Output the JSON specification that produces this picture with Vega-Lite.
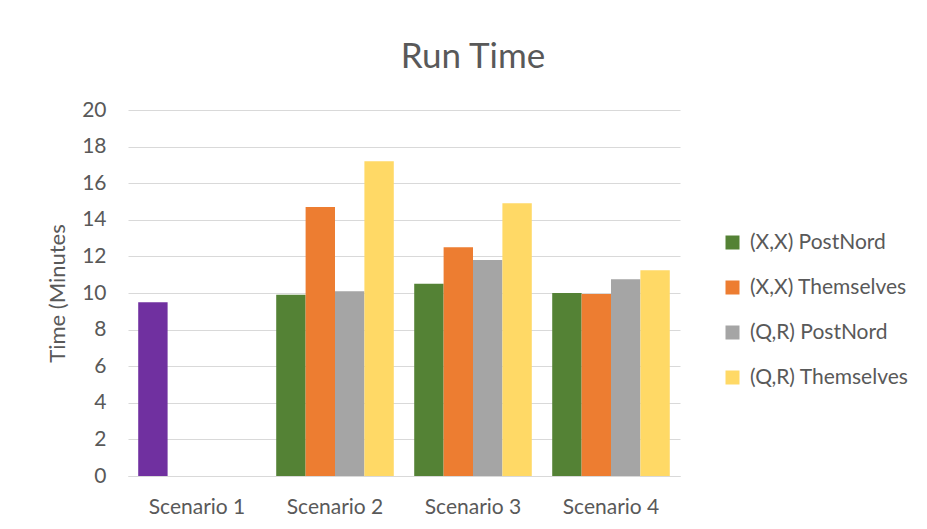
{
  "$schema": "https://vega.github.io/schema/vega-lite/v6.json",
  "width": 552,
  "height": 366,
  "autosize": "none",
  "padding": {"left": 128, "top": 110, "right": 247, "bottom": 53},
  "background": "white",
  "config": {
    "font": "Lato",
    "view": {"stroke": null},
    "axis": {"labelColor": "#595959", "titleColor": "#595959", "labelFont": "Lato", "titleFont": "Lato"},
    "legend": {"labelColor": "#595959", "labelFont": "Lato"}
  },
  "title": {
    "text": "Run Time",
    "fontSize": 35,
    "font": "Lato",
    "fontWeight": "normal",
    "color": "#595959",
    "anchor": "middle",
    "dx": 69,
    "offset": 24
  },
  "data": {
    "values": [
      {"scenario": "Scenario 1", "series": "(X,X) PostNord", "time": 9.5},
      {"scenario": "Scenario 2", "series": "(X,X) PostNord", "time": 9.9},
      {"scenario": "Scenario 2", "series": "(X,X) Themselves", "time": 14.7},
      {"scenario": "Scenario 2", "series": "(Q,R) PostNord", "time": 10.1},
      {"scenario": "Scenario 2", "series": "(Q,R) Themselves", "time": 17.2},
      {"scenario": "Scenario 3", "series": "(X,X) PostNord", "time": 10.5},
      {"scenario": "Scenario 3", "series": "(X,X) Themselves", "time": 12.5},
      {"scenario": "Scenario 3", "series": "(Q,R) PostNord", "time": 11.8},
      {"scenario": "Scenario 3", "series": "(Q,R) Themselves", "time": 14.9},
      {"scenario": "Scenario 4", "series": "(X,X) PostNord", "time": 10.0},
      {"scenario": "Scenario 4", "series": "(X,X) Themselves", "time": 9.95},
      {"scenario": "Scenario 4", "series": "(Q,R) PostNord", "time": 10.75},
      {"scenario": "Scenario 4", "series": "(Q,R) Themselves", "time": 11.25}
    ]
  },
  "mark": {"type": "bar"},
  "encoding": {
    "x": {
      "field": "scenario",
      "type": "nominal",
      "scale": {"paddingInner": 0.148, "paddingOuter": 0.074},
      "axis": {
        "title": null,
        "labelAngle": 0,
        "labelFontSize": 21,
        "labelPadding": 20,
        "ticks": false,
        "domainColor": "#d9d9d9",
        "domainWidth": 1
      }
    },
    "xOffset": {
      "field": "series",
      "type": "nominal",
      "sort": ["(X,X) PostNord", "(X,X) Themselves", "(Q,R) PostNord", "(Q,R) Themselves"]
    },
    "y": {
      "field": "time",
      "type": "quantitative",
      "scale": {"domain": [0, 20], "nice": false},
      "axis": {
        "title": "Time (Minutes",
        "titleFontSize": 22,
        "titleFontWeight": "normal",
        "titlePadding": 12,
        "values": [0, 2, 4, 6, 8, 10, 12, 14, 16, 18, 20],
        "labelFontSize": 21,
        "labelPadding": 22,
        "ticks": false,
        "domain": false,
        "gridColor": "#d9d9d9",
        "gridWidth": 1
      }
    },
    "color": {
      "condition": {"test": "datum.scenario === 'Scenario 1'", "value": "#7030A0"},
      "field": "series",
      "type": "nominal",
      "scale": {
        "domain": ["(X,X) PostNord", "(X,X) Themselves", "(Q,R) PostNord", "(Q,R) Themselves"],
        "range": ["#548235", "#ED7D31", "#A5A5A5", "#FFD966"]
      },
      "legend": {
        "title": null,
        "orient": "none",
        "legendX": 594,
        "legendY": 122,
        "symbolType": "square",
        "symbolSize": 196,
        "symbolStrokeWidth": 0,
        "labelFontSize": 21,
        "labelOffset": 7,
        "rowPadding": 23,
        "padding": 0
      }
    }
  }
}
